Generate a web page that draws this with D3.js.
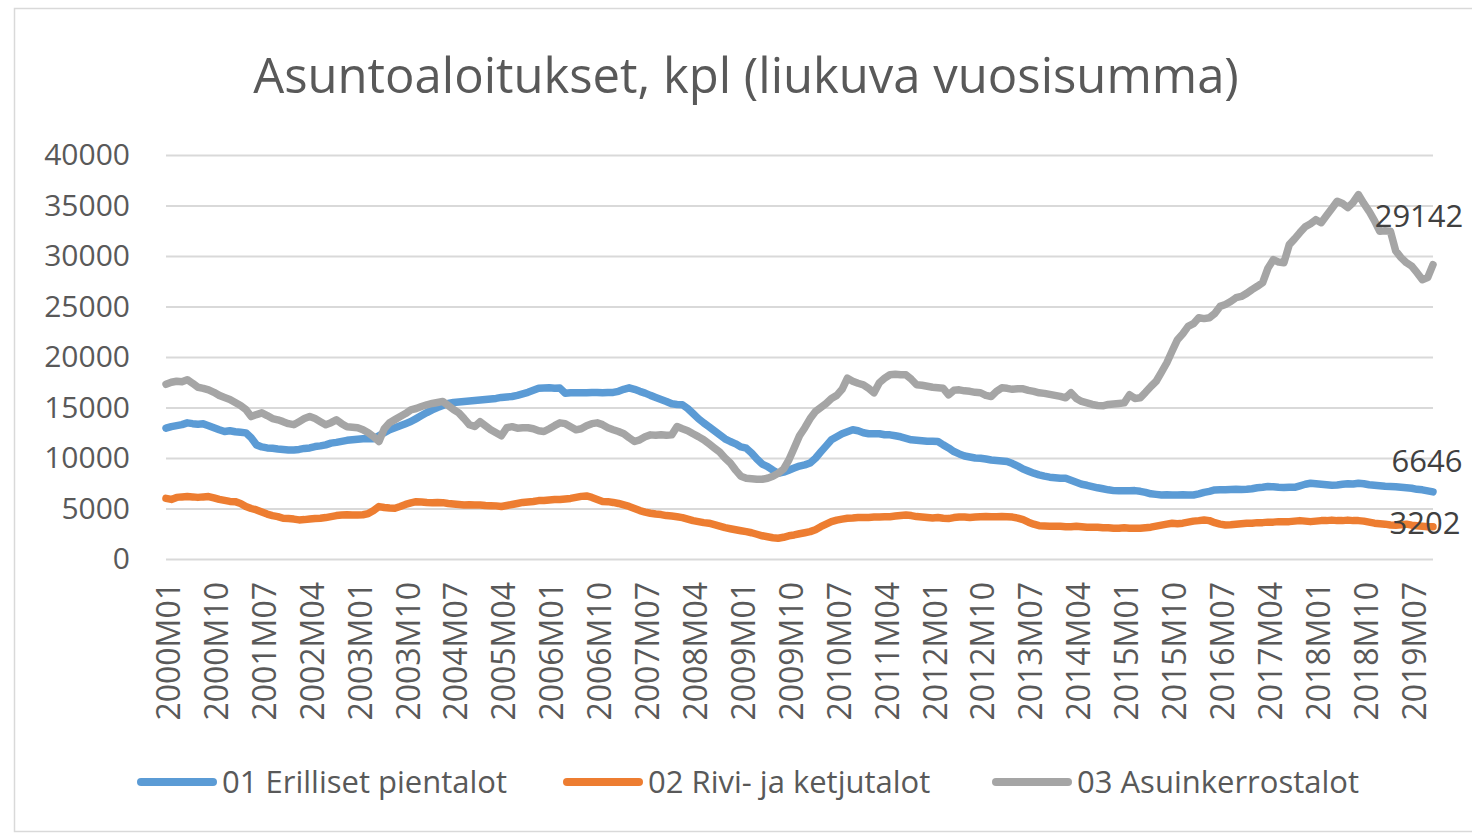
<!DOCTYPE html>
<html>
<head>
<meta charset="utf-8">
<script src="https://cdn.jsdelivr.net/npm/d3@7"></script>
<style>
	html, body { margin: 0; padding: 0; background: #fff; }
	svg { display: block; }
</style>
</head>
<body>
<svg id="chart"></svg>
<script>
// months 2000M01 ... 2019M11
const years = d3.range(2000, 2020)
const months = ['01', '02', '03', '04', '05', '06', '07', '08', '09', '10', '11', '12']
const categories = years.flatMap(y => months.map(m => y + 'M' + m)).slice(0, 239)

const xTickLabels = ['2000M01', '2000M10', '2001M07', '2002M04', '2003M01', '2003M10', '2004M07', '2005M04', '2006M01',
	'2006M10', '2007M07', '2008M04', '2009M01', '2009M10', '2010M07', '2011M04', '2012M01', '2012M10', '2013M07',
	'2014M04', '2015M01', '2015M10', '2016M07', '2017M04', '2018M01', '2018M10', '2019M07']
const yTicks = [0, 5000, 10000, 15000, 20000, 25000, 30000, 35000, 40000]

const seriesNames = ['01 Erilliset pientalot', '02 Rivi- ja ketjutalot', '03 Asuinkerrostalot']
const seriesColors = ['#5b9bd5', '#ed7d31', '#a5a5a5']

const erilliset = [
	12950, 13100, 13200, 13300, 13480, 13400, 13350, 13380, 13200, 13000, 12800, 12620,
	12700, 12600, 12550, 12490, 12000, 11300, 11100, 11000, 10970, 10900, 10850, 10800,
	10800, 10850, 10950, 11000, 11130, 11200, 11300, 11470, 11550, 11650, 11750, 11800,
	11850, 11900, 11900, 11900, 12200, 12500, 12790, 13000, 13200, 13400, 13610, 13900,
	14200, 14500, 14770, 15000, 15200, 15400, 15500, 15550, 15600, 15650, 15700, 15750,
	15800, 15850, 15900, 16000, 16050, 16090, 16200, 16350, 16500, 16700, 16900, 16920,
	16950, 16900, 16920, 16420, 16450, 16450, 16450, 16450, 16480, 16480, 16450, 16490,
	16490, 16600, 16800, 16950, 16800, 16600, 16420, 16200, 16000, 15800, 15600, 15370,
	15300, 15270, 14900, 14400, 13900, 13480, 13100, 12700, 12300, 11900, 11630, 11400,
	11100, 10970, 10500, 9900, 9400, 9150, 8800, 8490, 8600, 8800, 9000, 9200,
	9320, 9500, 9980, 10600, 11200, 11800, 12100, 12400, 12600, 12790, 12700, 12500,
	12400, 12390, 12400, 12300, 12290, 12200, 12100, 11950, 11800, 11750, 11700, 11650,
	11650, 11630, 11300, 11000, 10640, 10400, 10200, 10100, 10000, 9980, 9900, 9800,
	9750, 9700, 9650, 9450, 9200, 8900, 8700, 8500, 8330, 8200, 8100, 8050,
	8000, 8000, 7800, 7600, 7400, 7300, 7170, 7050, 6950, 6850, 6770, 6750,
	6750, 6760, 6770, 6700, 6600, 6450, 6400, 6340, 6350, 6340, 6330, 6350,
	6340, 6340, 6450, 6600, 6700, 6840, 6850, 6850, 6880, 6900, 6880, 6900,
	6950, 7050, 7100, 7170, 7150, 7100, 7080, 7100, 7100, 7250, 7400, 7500,
	7450, 7400, 7350, 7300, 7330, 7400, 7450, 7420, 7500, 7450, 7350, 7300,
	7250, 7200, 7170, 7150, 7100, 7050, 7000, 6900, 6850, 6750, 6646
]

const rivitalot = [
	6010, 5900, 6100, 6150, 6180, 6150, 6100, 6150, 6180, 6050, 5900, 5800,
	5700, 5680, 5500, 5200, 5000, 4860, 4650, 4450, 4300, 4200, 4030, 4000,
	3950, 3870, 3900, 3950, 4000, 4030, 4100, 4200, 4300, 4360, 4380, 4360,
	4360, 4380, 4500, 4800, 5190, 5100, 5050, 5030, 5200, 5400, 5550, 5680,
	5650, 5600, 5580, 5600, 5580, 5500, 5450, 5400, 5350, 5380, 5350, 5350,
	5300, 5280, 5260, 5200, 5300, 5400, 5500, 5600, 5650, 5700, 5780, 5800,
	5850, 5880, 5900, 5950, 6000, 6100, 6200, 6240, 6100, 5900, 5700, 5680,
	5600, 5500, 5350, 5200, 5000, 4800, 4650, 4530, 4450, 4400, 4300, 4250,
	4190, 4100, 3950, 3800, 3700, 3600, 3540, 3400, 3250, 3100, 3000, 2900,
	2800, 2710, 2600, 2450, 2300, 2200, 2100, 2050, 2150, 2300, 2380, 2500,
	2600, 2710, 2900, 3200, 3450, 3700, 3850, 3950, 4030, 4050, 4100, 4100,
	4120, 4150, 4150, 4180, 4190, 4250, 4300, 4360, 4300, 4200, 4150, 4100,
	4050, 4100, 4030, 4000, 4100, 4150, 4150, 4100, 4150, 4190, 4200, 4180,
	4190, 4200, 4190, 4150, 4050, 3900, 3650, 3450, 3300, 3270, 3250, 3250,
	3250, 3200, 3200, 3250, 3200, 3150, 3140, 3150, 3100, 3100, 3050, 3050,
	3100, 3050, 3050, 3040, 3100, 3150, 3250, 3350, 3450, 3540, 3500, 3550,
	3650, 3750, 3800, 3870, 3800, 3600, 3450, 3370, 3400, 3450, 3500, 3550,
	3550, 3600, 3600, 3650, 3650, 3700, 3700, 3700, 3750, 3800, 3750, 3700,
	3750, 3800, 3800, 3850, 3800, 3800, 3850, 3800, 3800, 3750, 3650, 3550,
	3500, 3450, 3370, 3350, 3400, 3450, 3350, 3300, 3250, 3200, 3202
]

const kerrostalot = [
	17300, 17500, 17600, 17550, 17750, 17400, 17000, 16900, 16750, 16500, 16200, 16000,
	15800, 15500, 15200, 14800, 14100, 14300, 14470, 14200, 13900, 13780, 13600, 13400,
	13300, 13600, 13900, 14100, 13900, 13600, 13300, 13500, 13780, 13400, 13100, 13050,
	13000, 12800, 12500, 12100, 11630, 12900, 13500, 13800, 14100, 14400, 14770, 14900,
	15100, 15270, 15400, 15500, 15600, 15200, 14800, 14470, 13900, 13300, 13115, 13600,
	13200, 12800, 12500, 12200, 13000, 13100, 12950, 13000, 12990, 12900, 12700, 12620,
	12900, 13200, 13480, 13400, 13100, 12790, 12900, 13200, 13400, 13480, 13300, 13000,
	12800, 12620, 12400, 12000, 11630, 11800, 12100, 12290, 12250, 12300, 12250, 12290,
	13115, 12900, 12700, 12400, 12120, 11800, 11400, 11000, 10600, 10000, 9500, 8800,
	8200, 8000, 7950, 7900, 7900, 8000, 8200, 8490, 8900, 9800, 11000, 12200,
	13000, 13900, 14600, 15000, 15400, 15900, 16200, 16800, 17900, 17600, 17400, 17250,
	16900, 16460, 17450, 17900, 18240, 18300, 18250, 18240, 17800, 17250, 17200, 17100,
	17000, 16950, 16900, 16260, 16700, 16750, 16650, 16600, 16500, 16460, 16200, 16090,
	16600, 16950, 16900, 16800, 16850, 16850, 16700, 16600, 16460, 16400, 16300, 16200,
	16100, 15960, 16460, 15900, 15600, 15450, 15300, 15200, 15170, 15300, 15350, 15400,
	15460, 16260, 15900, 15960, 16500, 17080, 17600, 18500, 19430, 20600, 21710, 22300,
	23030, 23300, 23890, 23800, 23890, 24300, 25010, 25200, 25500, 25870, 26000, 26300,
	26670, 27000, 27360, 28800, 29640, 29400, 29340, 31130, 31700, 32320, 32900, 33200,
	33600, 33300, 34000, 34700, 35420, 35200, 34790, 35300, 36080, 35200, 34430, 33500,
	32450, 32500, 32450, 30500, 29840, 29340, 29000, 28350, 27660, 27860, 29142
]

const seriesValues = [erilliset, rivitalot, kerrostalot]

const W = 1472
const H = 835
const margin = { top: 155, right: 39, bottom: 276, left: 166 }
const width = W - margin.left - margin.right
const height = H - margin.top - margin.bottom
const textColor = '#595959'

const svg = d3.select('#chart')
	.attr('width', W)
	.attr('height', H)

// chart frame
svg.append('rect')
	.attr('x', 14.5)
	.attr('y', 8.5)
	.attr('width', W)
	.attr('height', H - 12)
	.attr('fill', '#fff')
	.attr('stroke', '#d9d9d9')
	.attr('stroke-width', 1.5)

// title
svg.append('text')
	.attr('x', 746)
	.attr('y', 93)
	.attr('text-anchor', 'middle')
	.attr('font-family', 'Open Sans, sans-serif')
	.attr('font-size', '49px')
	.attr('fill', textColor)
	.text('Asuntoaloitukset, kpl (liukuva vuosisumma)')

const g = svg.append('g')
	.attr('transform', 'translate(' + margin.left + ',' + margin.top + ')')

const x = d3.scalePoint()
	.domain(categories)
	.range([0, width])

const y = d3.scaleLinear()
	.domain([0, 40000])
	.range([height, 0])

// y axis + gridlines
const yAxis = g.append('g')
	.call(d3.axisLeft(y).tickValues(yTicks).tickSize(-width).tickPadding(36).tickFormat(d3.format('d')))
yAxis.select('.domain').remove()
yAxis.selectAll('line')
	.attr('stroke', '#d9d9d9')
	.attr('stroke-width', 2)
yAxis.selectAll('text')
	.attr('font-family', 'Open Sans, sans-serif')
	.attr('font-size', '30px')
	.attr('fill', textColor)

// x axis
const xAxis = g.append('g')
	.attr('transform', 'translate(0,' + height + ')')
	.call(d3.axisBottom(x).tickValues(xTickLabels).tickSize(0))
xAxis.select('.domain').remove()
xAxis.selectAll('text')
	.attr('font-family', 'Open Sans, sans-serif')
	.attr('font-size', '32px')
	.attr('fill', textColor)
	.attr('text-anchor', 'end')
	.attr('transform', 'rotate(-90)')
	.attr('x', -23)
	.attr('y', 0)
	.attr('dy', '0.42em')

// lines
const line = d3.line()
	.x((d, i) => x(categories[i]))
	.y(d => y(d))

seriesValues.forEach((vals, k) => {
	g.append('path')
		.datum(vals)
		.attr('fill', 'none')
		.attr('stroke', seriesColors[k])
		.attr('stroke-width', 7.5)
		.attr('stroke-linejoin', 'round')
		.attr('stroke-linecap', 'round')
		.attr('d', line)
})

// end labels
const lastCat = categories[categories.length - 1]
const endLabels = [
	{ v: erilliset[erilliset.length - 1], dx: -6, dy: -20 },
	{ v: rivitalot[rivitalot.length - 1], dx: -8, dy: 7 },
	{ v: kerrostalot[kerrostalot.length - 1], dx: -14, dy: -38 }
]
endLabels.forEach(l => {
	g.append('text')
		.attr('x', x(lastCat) + l.dx)
		.attr('y', y(l.v) + l.dy)
		.attr('text-anchor', 'middle')
		.attr('font-family', 'Open Sans, sans-serif')
		.attr('font-size', '31px')
		.attr('fill', '#404040')
		.text(l.v)
})

// legend
const legendX = [137, 563, 992]
const legend = svg.append('g')
	.attr('transform', 'translate(0,782)')
seriesNames.forEach((name, k) => {
	legend.append('line')
		.attr('x1', legendX[k] + 4)
		.attr('x2', legendX[k] + 76)
		.attr('y1', 0)
		.attr('y2', 0)
		.attr('stroke', seriesColors[k])
		.attr('stroke-width', 8)
		.attr('stroke-linecap', 'round')
	legend.append('text')
		.attr('x', legendX[k] + 85)
		.attr('y', 0)
		.attr('dy', '0.36em')
		.attr('font-family', 'Open Sans, sans-serif')
		.attr('font-size', '31px')
		.attr('fill', textColor)
		.text(name)
})
</script>
</body>
</html>
